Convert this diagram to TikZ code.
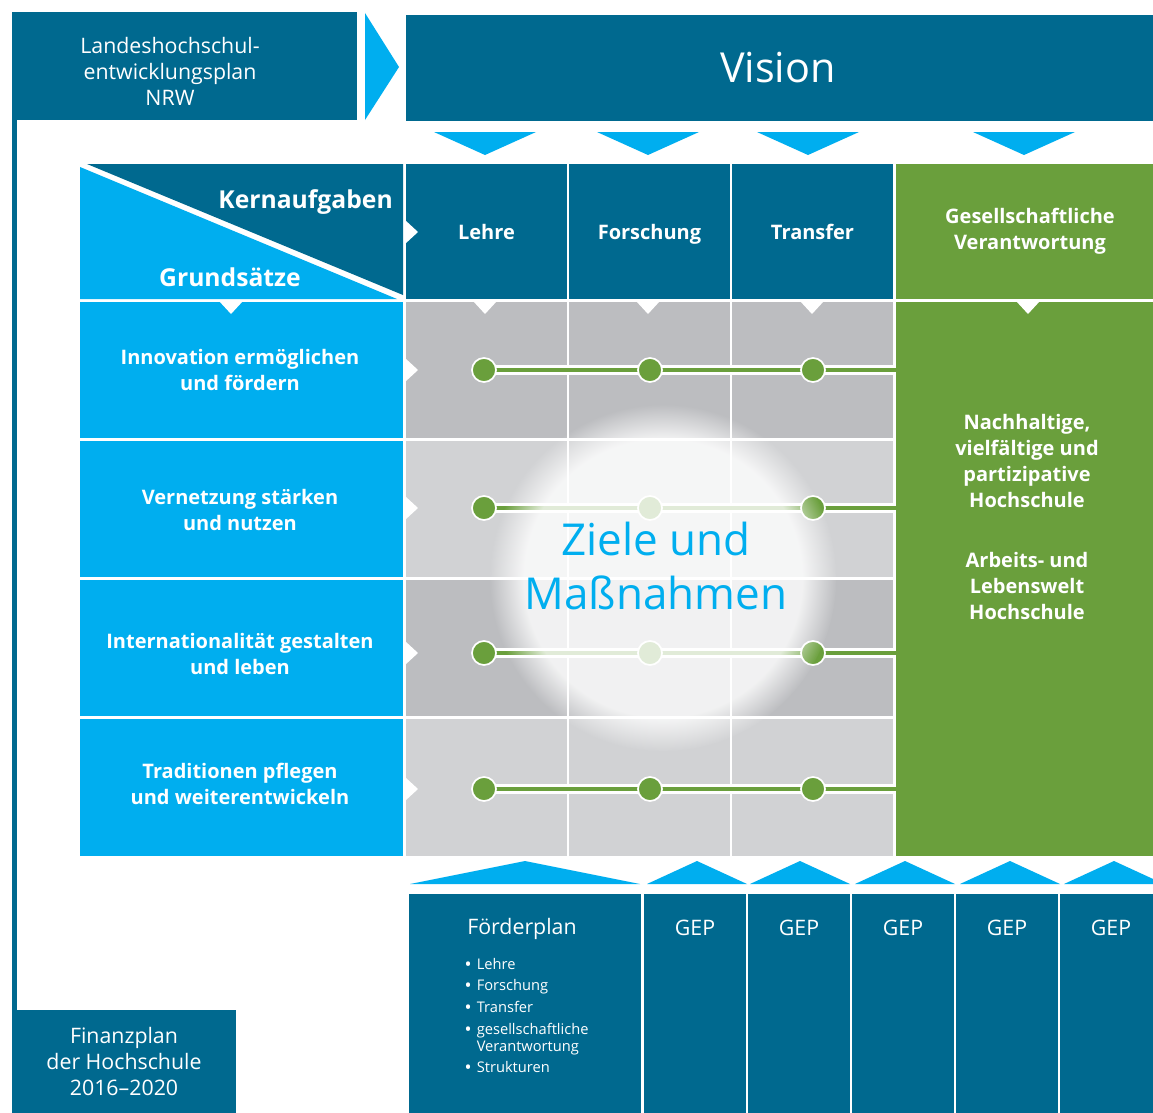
\documentclass[tikz,border=0pt]{standalone}
\usepackage{fontspec}
\setmainfont{Open Sans}
\usetikzlibrary{positioning, fit, fadings, calc}

\definecolor{lhpblue}{HTML}{00698F}
\definecolor{lhplight}{HTML}{00AEEF}
\definecolor{lhpgreen}{HTML}{6A9F3C}
\definecolor{graydark}{HTML}{BCBDC0}
\definecolor{graylight}{HTML}{D1D2D4}

\newcommand\plainfont{\fontsize{16}{19.5}\selectfont}
\newcommand\rowfont{\bfseries\fontsize{15}{19.5}\selectfont}
\newcommand\cornerfont{\bfseries\fontsize{18.5}{22}\selectfont}

\begin{document}
\begin{tikzpicture}[x=0.75pt, y=-0.75pt,
    box/.style={inner sep=0pt, text=white, align=center},
    darkbox/.style={box, fill=lhpblue},
    rowbox/.style={box, fill=lhplight},
    greenbox/.style={box, fill=lhpgreen},
    headtext/.style={box, font=\rowfont, text depth=0pt},
    dot/.style={circle, fill=lhpgreen, draw=white, line width=1.3pt, minimum size=18pt, inner sep=0pt},
    casing/.style={draw=white, line width=7pt},
    link/.style={draw=lhpgreen, line width=3pt}
  ]

  \fill[white] (0,0) rectangle (1153,1113);
  \useasboundingbox (0,0) rectangle (1153,1113);

  % Landeshochschulentwicklungsplan, bar down to the Finanzplan
  \fill[lhpblue] (12,12) rectangle (17,1012);
  \node[darkbox, fit={(12,12) (357,120)}] (lhep) {};
  \node[box, font=\plainfont] (lheptext) at (170,71) {Landeshochschul-\\entwicklungsplan\\NRW};

  % chevron and Vision
  \fill[lhplight] (365,13) -- (399,67) -- (365,120) -- cycle;
  \node[darkbox, fit={(406,15) (1153,121)}] (vision) {};
  \node[box, font=\fontsize{31}{36}\selectfont, text depth=0pt] (visiontext) at (778,67) {Vision};
  \foreach \x in {485,648,808,1024}
    \fill[lhplight] (\x-51,132) -- (\x+51,132) -- (\x,155) -- cycle;

  % corner cell: Kernaufgaben / Grundsaetze
  \fill[lhplight] (80,167) -- (397,299) -- (80,299) -- cycle;
  \fill[lhpblue] (87,164) -- (403,164) -- (403,295) -- cycle;
  \node[box, font=\cornerfont, anchor=east] (kern) at (393,202) {Kernaufgaben};
  \node[box, font=\cornerfont] (grund) at (230,277) {Grundsätze};

  % Kernaufgaben columns
  \node[darkbox, fit={(406,164) (567,299)}] (lehre) {};
  \node[darkbox, fit={(569,164) (730,299)}] (forschung) {};
  \node[darkbox, fit={(732,164) (893,299)}] (transfer) {};
  \node[greenbox, fit={(896,164) (1153,299)}] (gesverantw) {};
  \node[headtext] (lehretext) at (lehre) {Lehre};
  \node[headtext] (forschungtext) at (forschung) {Forschung};
  \node[headtext] (transfertext) at (transfer) {Transfer};
  \node[headtext] (gesverantwtext) at (1030,229) {Gesellschaftliche\\Verantwortung};

  % Grundsaetze rows
  \node[rowbox, fit={(80,302) (403,438)}] (innovation) {};
  \node[rowbox, fit={(80,441) (403,577)}] (vernetzung) {};
  \node[rowbox, fit={(80,580) (403,716)}] (international) {};
  \node[rowbox, fit={(80,719) (403,856)}] (tradition) {};
  \node[headtext] (innovationtext) at (240,370) {Innovation ermöglichen\\und fördern};
  \node[headtext] (vernetzungtext) at (240,510) {Vernetzung stärken\\und nutzen};
  \node[headtext] (internationaltext) at (240,654) {Internationalität gestalten\\und leben};
  \node[headtext] (traditiontext) at (240,784) {Traditionen pflegen\\und weiterentwickeln};

  % grey cells
  \foreach \top/\bot/\shade in {302/438/graydark, 441/577/graylight, 580/716/graydark, 719/856/graylight}
    \foreach \left/\right in {406/567, 569/730, 732/893}
      \fill[\shade] (\left,\top) rectangle (\right,\bot);

  % green column
  \node[greenbox, fit={(896,302) (1153,856)}] (gesbody) {};
  \node[box, font=\rowfont] (gestext) at (1027,517)
    {Nachhaltige,\\vielfältige und\\partizipative\\Hochschule\\[25.5pt]Arbeits- und\\Lebenswelt\\Hochschule};

  % white notches
  \foreach \x in {231,485,648,812,1028}
    \fill[white] (\x-12,301) -- (\x+12,301) -- (\x,314) -- cycle;
  \foreach \y in {370,508,653,789}
    \fill[white] (405,\y-12) -- (418,\y) -- (405,\y+12) -- cycle;
  \fill[white] (405,220) -- (418,232) -- (405,244) -- cycle;

  % links through the dots
  \foreach \y [count=\r] in {370,508,653,789} {
    \coordinate (start\r) at (484,\y);
    \draw[casing] (start\r) -- (start\r -| gesbody.west);
    \draw[link] (start\r) -- ([xshift=2pt]start\r -| gesbody.west);
    \node[dot] (dot\r a) at (start\r) {};
    \node[dot] (dot\r b) at (650,\y) {};
    \node[dot] (dot\r c) at (813,\y) {};
  }

  % glow behind Ziele und Massnahmen
  \fill[white, fill opacity=0.8, path fading=circle with fuzzy edge 20 percent] (663,578) circle (130pt);
  \node[font=\fontsize{33}{40}\selectfont, text=lhplight, align=center] (ziele) at (656,566) {Ziele und\\Maßnahmen};

  % arrows up from the plans
  \fill[lhplight] (410,884) -- (525,861) -- (640,884) -- cycle;
  \foreach \x in {697,800,905,1010,1114}
    \fill[lhplight] (\x-50,884) -- (\x,861) -- (\x+50,884) -- cycle;

  % Foerderplan
  \node[darkbox, fit={(409,894) (641,1113)}] (foerder) {};
  \node[box, font=\plainfont] (foerdertitle) at (522,929) {Förderplan};
  \node[box, font=\fontsize{11}{12.75}\selectfont, anchor=north west, align=left] (foerderlist) at (465,957)
    {\begin{tabular}{@{}l@{\hspace{4.5pt}}l@{}}
      \textbf{•} & Lehre\\[3.5pt]
      \textbf{•} & Forschung\\[3.5pt]
      \textbf{•} & Transfer\\[3.5pt]
      \textbf{•} & gesellschaftliche\\
        & Verantwortung\\[3.5pt]
      \textbf{•} & Strukturen
    \end{tabular}};

  % GEP columns
  \foreach \left/\right [count=\i] in {644/746, 748/850, 852/954, 956/1058, 1060/1162} {
    \node[darkbox, fit={(\left,894) (\right,1113)}] (gep\i) {};
    \node[box, font=\plainfont] (geptext\i) at ($(gep\i.north)+(0,34)$) {GEP};
  }

  % Finanzplan
  \node[darkbox, fit={(12,1010) (236,1113)}] (finanz) {};
  \node[box, font=\plainfont] (finanztext) at (finanz) {Finanzplan\\der Hochschule\\2016–2020};

\end{tikzpicture}
\end{document}
